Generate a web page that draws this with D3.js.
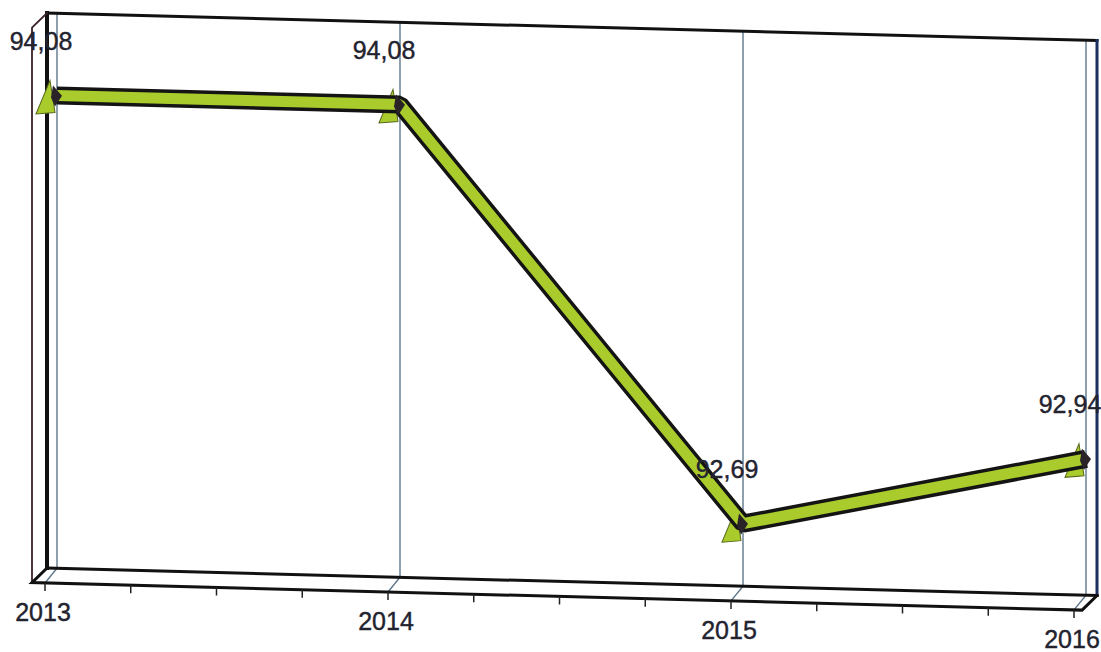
<!DOCTYPE html>
<html>
<head>
<meta charset="utf-8">
<script src="https://cdn.jsdelivr.net/npm/d3@7"></script>
<style>
  html, body { margin: 0; padding: 0; background: #fff; }
  svg { display: block; }
  text { font-family: "Liberation Sans", Arial, sans-serif; }
</style>
</head>
<body>
<svg id="chart" width="1101" height="652"></svg>
<script>
// Series data
const years = ["2013", "2014", "2015", "2016"];
const values = [94.08, 94.08, 92.69, 92.94];

// Layout of the 3D box (back wall, floor depth) and a slight vertical shear
const W = 1101, H = 652;
const wall = { left: 47, right: 1097, top: 13, bottom: 568 };
const depth = { dx: -15, dy: 15 };
const shearK = 0.0262;
const shearX0 = wall.left;

const svg = d3.select("#chart");
svg.append("rect").attr("width", W).attr("height", H).attr("fill", "#fff");

const x = d3.scalePoint().domain(years).range([57, 1086]);
const y = d3.scaleLinear().domain([92.478, 94.359]).range([wall.bottom, wall.top]);

const sheared = (px, py) => [px, py + shearK * (px - shearX0)];
const fmt = v => d3.format(".2f")(v).replace(".", ",");

const g = svg.append("g")
  .attr("transform", `matrix(1,${shearK},0,1,0,${-shearK * shearX0})`);

// Category gridlines on the back wall and across the floor
const grid = g.append("g").attr("fill", "none").attr("stroke", "#5f778c").attr("stroke-width", 1.4);
years.forEach(yr => {
  const gx = x(yr);
  grid.append("path")
    .attr("d", `M${gx},${wall.top}V${wall.bottom}L${gx + depth.dx + 3},${wall.bottom + depth.dy}`);
});

// Box edges
const edges = g.append("g").attr("fill", "none").attr("stroke-linecap", "square");
edges.append("path").attr("d", `M${wall.left},${wall.top}H${wall.right}`)
  .attr("stroke", "#111").attr("stroke-width", 3);
edges.append("path").attr("d", `M${wall.left},${wall.top}V${wall.bottom}`)
  .attr("stroke", "#111").attr("stroke-width", 4);
edges.append("path").attr("d", `M${wall.right},${wall.top}V${wall.bottom}`)
  .attr("stroke", "#1c2f5e").attr("stroke-width", 3);
edges.append("path")
  .attr("d", `M${wall.left},${wall.top}L${wall.left + depth.dx},${wall.top + depth.dy}V${wall.bottom + depth.dy}`)
  .attr("stroke", "#3a2226").attr("stroke-width", 1.8);
edges.append("path").attr("d", `M${wall.left},${wall.bottom}H${wall.right}`)
  .attr("stroke", "#111").attr("stroke-width", 3);
edges.append("path")
  .attr("d", `M${wall.left},${wall.bottom}L${wall.left + depth.dx},${wall.bottom + depth.dy}H${wall.right + depth.dx}L${wall.right},${wall.bottom}`)
  .attr("stroke", "#111").attr("stroke-width", 3);

// Tick marks on the front floor edge (major at categories, minor in quarters)
const step = x.step();
const ticks = g.append("g").attr("stroke", "#222").attr("stroke-width", 1.5);
for (let i = 0; i < years.length; i++) {
  const tx = x(years[i]) + depth.dx + 3;
  const nSub = i < years.length - 1 ? 4 : 1;
  for (let j = 0; j < nSub; j++) {
    const sx = tx + j * step / 4;
    ticks.append("line")
      .attr("x1", sx).attr("x2", sx)
      .attr("y1", wall.bottom + depth.dy).attr("y2", wall.bottom + depth.dy + 8);
  }
}

// Data points
const pts = years.map((yr, i) => ({ yr, v: values[i], px: x(yr), py: y(values[i]) }));

// Triangle markers (drawn under the ribbon)
const markerFill = "#a9cc2c";
g.append("g").selectAll("path").data(pts).join("path")
  .attr("d", d => `M${d.px - 7},${d.py - 15}L${d.px - 21},${d.py + 19}L${d.px - 2},${d.py + 17}Z`)
  .attr("fill", markerFill).attr("stroke", "#56661a").attr("stroke-width", 1);

// Ribbon line: dark outline with the green band on top
const line = d3.line().x(d => d.px).y(d => d.py);
g.append("path").datum(pts).attr("d", line)
  .attr("fill", "none").attr("stroke", "#141414").attr("stroke-width", 18)
  .attr("stroke-linejoin", "bevel");
g.append("path").datum(pts).attr("d", line)
  .attr("fill", "none").attr("stroke", markerFill).attr("stroke-width", 11)
  .attr("stroke-linejoin", "bevel");

// Dark joint of each marker
g.append("g").selectAll("path").data(pts).join("path")
  .attr("d", d => `M${d.px - 4},${d.py - 10}L${d.px + 5},${d.py}L${d.px - 2},${d.py + 11}L${d.px - 6},${d.py + 2}Z`)
  .attr("fill", "#2a2328");

// Value labels
const textColor = "#23232f";
svg.append("g").selectAll("text").data(pts).join("text")
  .attr("x", d => sheared(d.px - 16, d.py - 54)[0])
  .attr("y", d => sheared(d.px - 16, d.py - 54)[1])
  .attr("text-anchor", "middle").attr("dominant-baseline", "central")
  .attr("font-size", 25).attr("fill", textColor)
  .attr("stroke", textColor).attr("stroke-width", 0.4)
  .text(d => fmt(d.v));

// Category labels under the floor
svg.append("g").selectAll("text").data(years).join("text")
  .attr("x", d => sheared(x(d) + depth.dx + 1, 612)[0])
  .attr("y", d => sheared(x(d) + depth.dx + 1, 612)[1])
  .attr("text-anchor", "middle").attr("dominant-baseline", "central")
  .attr("font-size", 25).attr("fill", textColor)
  .attr("stroke", textColor).attr("stroke-width", 0.4)
  .text(d => d);
</script>
</body>
</html>
